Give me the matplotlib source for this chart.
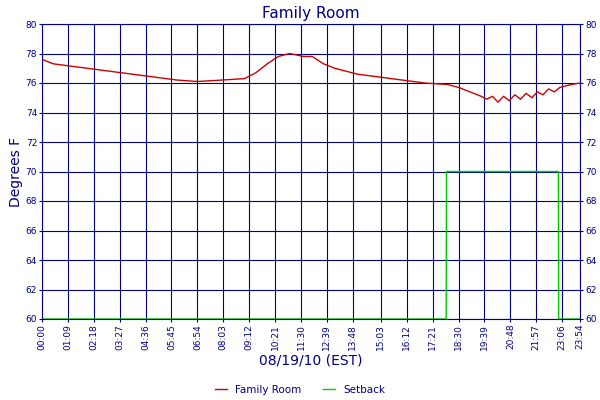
import matplotlib
matplotlib.use("Agg")
import matplotlib.pyplot as plt

# hours since midnight
temp_hours = [0, 0.5, 1, 2, 3, 4, 5, 6, 6.9, 8, 9, 9.5, 10, 10.5, 11, 11.3, 11.6, 12, 12.5, 13,
              13.5, 14, 15, 16, 17, 18, 18.5, 19, 19.5, 19.75, 20, 20.25, 20.5, 20.75, 21,
              21.25, 21.5, 21.75, 22, 22.25, 22.5, 22.75, 23, 23.5, 23.9]
temp_vals = [77.6, 77.3, 77.2, 77.0, 76.8, 76.6, 76.4, 76.2, 76.1, 76.2, 76.3, 76.7, 77.3, 77.8,
             78.0, 77.9, 77.8, 77.8, 77.3, 77.0, 76.8, 76.6, 76.4, 76.2, 76.0, 75.9, 75.7, 75.4,
             75.1, 74.9, 75.1, 74.7, 75.1, 74.8, 75.2, 74.9, 75.3, 75.0, 75.4, 75.2, 75.6, 75.4,
             75.7, 75.9, 76.0]

setback_hours = [0, 17.95, 17.96, 22.93, 22.94, 23.9]
setback_vals = [60, 60, 70, 70, 60, 60]

tick_labels = ["00:00", "01:09", "02:18", "03:27", "04:36", "05:45", "06:54", "08:03",
               "09:12", "10:21", "11:30", "12:39", "13:48", "15:03", "16:12", "17:21",
               "18:30", "19:39", "20:48", "21:57", "23:06", "23:54"]


def to_hours(s):
    h, m = s.split(":")
    return int(h) + int(m) / 60.0


tick_pos = [to_hours(t) for t in tick_labels]
navy = "#000080"

fig = plt.figure(figsize=(6, 4), dpi=100)
ax = fig.add_axes([0.07, 0.2025, 0.897, 0.7375])

ax.plot(temp_hours, temp_vals, color="#cc0000", linewidth=1, label="Family Room")
ax.plot(setback_hours, setback_vals, color="#00cc00", linewidth=1, label="Setback")

ax.set_xlim(0, 23.9)
ax.set_ylim(60, 80)
ax.set_xticks(tick_pos)
ax.set_xticklabels(tick_labels, rotation=90, fontsize=6.5, color=navy)
ax.set_yticks(range(60, 81, 2))
ax.tick_params(axis="y", labelsize=6.5, labelcolor=navy, right=True, labelright=True,
               colors=navy, length=2, pad=1.5)
ax.tick_params(axis="x", colors=navy, length=2, pad=1.5)
ax.grid(True, color=navy, linewidth=0.8)
for s in ax.spines.values():
    s.set_color(navy)

ax.set_title("Family Room", fontsize=11, color=navy, pad=4)
ax.set_xlabel("08/19/10 (EST)", fontsize=10, color=navy, labelpad=3)
ax.set_ylabel("Degrees F", fontsize=10, color=navy, labelpad=2)

fig.legend(loc="lower center", ncol=2, frameon=False, fontsize=7.5,
           bbox_to_anchor=(0.5, -0.01), labelcolor=navy, handlelength=1.2)

fig.savefig("out.png", dpi=100)
